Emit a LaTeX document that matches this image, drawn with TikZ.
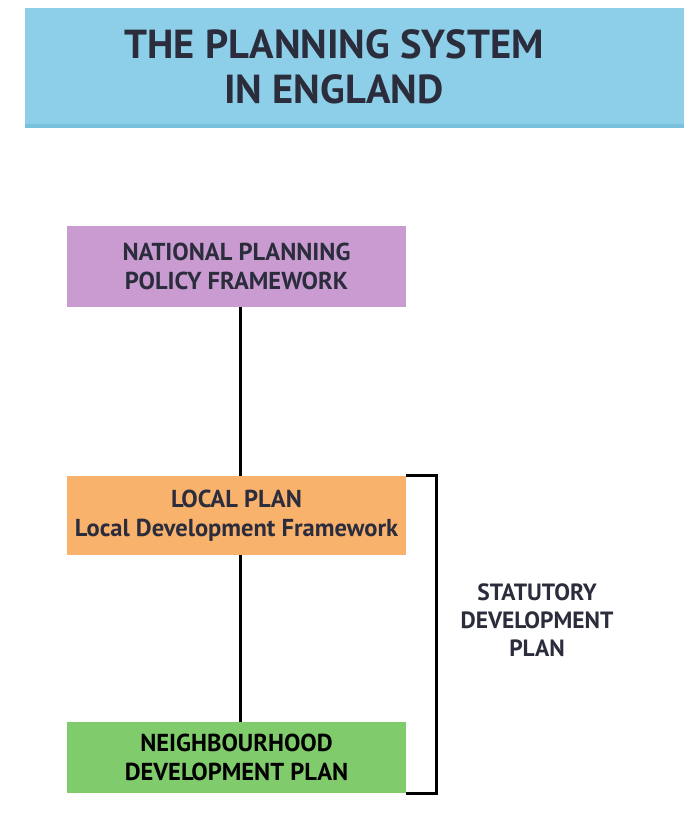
\documentclass[tikz,border=0pt]{standalone}
\usepackage{fontspec}
\setmainfont{PT Sans}
\definecolor{bandblue}{HTML}{8DCFE8}
\definecolor{bandedge}{HTML}{79C2DD}
\definecolor{npurple}{HTML}{C99BD1}
\definecolor{lorange}{HTML}{F8B26C}
\definecolor{ngreen}{HTML}{80CB6B}
\definecolor{ink}{HTML}{2B2D3C}
\tikzset{
  planbox/.style={minimum width=339pt, inner sep=0pt, align=center, font=\bfseries\fontsize{24.5}{28.5}\selectfont, text=ink},
  link/.style={line width=3pt, black},
}
\begin{document}
\begin{tikzpicture}[x=1pt,y=-1pt]
\useasboundingbox (0,0) rectangle (684,818);
\fill[white] (0,0) rectangle (684,818);
% header band
\fill[bandblue] (25,8) rectangle (684,128);
\fill[bandedge] (25,124) rectangle (684,128);
\node[font=\bfseries\fontsize{40.5}{45}\selectfont, text=ink, align=center] (title) at (334,67) {THE PLANNING SYSTEM\\IN ENGLAND};
% boxes
\node[planbox, fill=npurple, minimum height=81pt] (nppf) at (236.5,266.5) {NATIONAL PLANNING\\POLICY FRAMEWORK};
\node[planbox, fill=lorange, minimum height=79pt] (local) at (236.5,515.5) {LOCAL PLAN\\Local Development Framework};
\node[planbox, fill=ngreen, minimum height=71pt, text=black] (ndp) at (236.5,757.5) {NEIGHBOURHOOD\\DEVELOPMENT PLAN};
% connectors
\draw[link] (nppf.south -| 240,0) -- (local.north -| 240,0);
\draw[link] (local.south -| 240,0) -- (ndp.north -| 240,0);
% bracket
\coordinate (bt) at (local.north east);
\coordinate (bb) at (ndp.south east);
\draw[link, line join=miter] (bt) -- ++(30,0) |- (bb);
\node[font=\bfseries\fontsize{23.5}{28}\selectfont, text=ink, align=center] (sdp) at (537,620) {STATUTORY\\DEVELOPMENT\\PLAN};
\end{tikzpicture}
\end{document}
